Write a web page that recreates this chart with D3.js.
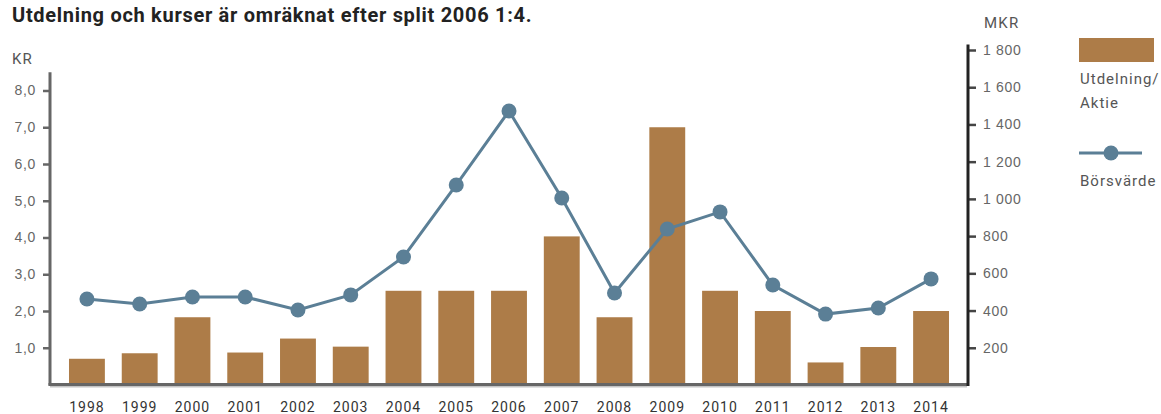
<!DOCTYPE html>
<html>
<head>
<meta charset="utf-8">
<script src="https://cdn.jsdelivr.net/npm/d3@7"></script>
<style>
  body { margin: 0; background: #fff; }
  svg { display: block; font-family: Roboto, "DejaVu Sans", sans-serif; }
  .tick text { fill: #666; font-size: 14px; letter-spacing: 0.7px; }
  .xlab text { fill: #333; font-size: 14px; letter-spacing: 1px; }
  .legend text { fill: #555; font-size: 15px; letter-spacing: 1px; }
</style>
</head>
<body>
<svg id="chart" width="1161" height="414"></svg>
<script>
const years = ['1998','1999','2000','2001','2002','2003','2004','2005','2006','2007','2008','2009','2010','2011','2012','2013','2014'];
// utdelning per aktie, KR
const dividend = [0.7, 0.85, 1.83, 0.87, 1.25, 1.03, 2.55, 2.55, 2.55, 4.03, 1.83, 7.0, 2.55, 2.0, 0.6, 1.02, 2.0];
// börsvärde, MKR
const marketCap = [462, 435, 473, 473, 403, 484, 688, 1075, 1472, 1005, 494, 838, 930, 537, 381, 414, 570];
const leftTicks = [1, 2, 3, 4, 5, 6, 7, 8];
const rightTicks = [200, 400, 600, 800, 1000, 1200, 1400, 1600, 1800];

const barColor = '#ad7c48';
const lineColor = '#5b7f96';

const se = d3.formatLocale({ decimal: ',', thousands: '\u2009', grouping: [3], currency: ['', ' kr'] });
const fmtKr = se.format('.1f');
const fmtMkr = d => se.format(',')(d).replace('\u2009', ' ');

const svg = d3.select('#chart');

const x = d3.scaleBand()
  .domain(years)
  .range([50, 968])
  .paddingInner(0.32)
  .paddingOuter(0.36);

const yL = d3.scaleLinear().domain([0, 8]).range([384.5, 90.5]);
const yR = d3.scaleLinear().domain([0, 1800]).range([385, 50]);

// title
svg.append('text')
  .attr('x', 12).attr('y', 22)
  .attr('font-size', 20).attr('font-weight', 'bold')
  .attr('letter-spacing', 0.7)
  .attr('fill', '#222')
  .text('Utdelning och kurser är omräknat efter split 2006 1:4.');

svg.append('text').attr('x', 12).attr('y', 64)
  .attr('font-size', 15).attr('fill', '#555').attr('letter-spacing', 1.2)
  .text('KR');
svg.append('text').attr('x', 984).attr('y', 28)
  .attr('font-size', 15).attr('fill', '#555').attr('letter-spacing', 1.2)
  .text('MKR');

// bars
svg.append('g').selectAll('rect')
  .data(dividend)
  .join('rect')
  .attr('x', (d, i) => x(years[i]))
  .attr('y', d => yL(d))
  .attr('width', x.bandwidth())
  .attr('height', d => yL(0) - yL(d))
  .attr('fill', barColor);

// line
const line = d3.line()
  .x((d, i) => x(years[i]) + x.bandwidth() / 2)
  .y(d => yR(d));
svg.append('path')
  .datum(marketCap)
  .attr('fill', 'none')
  .attr('stroke', lineColor)
  .attr('stroke-width', 3)
  .attr('d', line);
svg.append('g').selectAll('circle')
  .data(marketCap)
  .join('circle')
  .attr('cx', (d, i) => x(years[i]) + x.bandwidth() / 2)
  .attr('cy', d => yR(d))
  .attr('r', 7.5)
  .attr('fill', lineColor);

// left axis
const gL = svg.append('g').attr('transform', 'translate(50,0)')
  .call(d3.axisLeft(yL).tickValues(leftTicks).tickFormat(fmtKr).tickSize(7).tickPadding(7));
gL.select('.domain').remove();
gL.selectAll('.tick line').attr('stroke', '#666').attr('stroke-width', 2.5);
svg.append('line')
  .attr('x1', 50).attr('x2', 50)
  .attr('y1', yL(8.5)).attr('y2', yL(0) + 1)
  .attr('stroke', '#666').attr('stroke-width', 3);

// right axis
const gR = svg.append('g').attr('transform', 'translate(968,0)')
  .call(d3.axisRight(yR).tickValues(rightTicks).tickFormat(fmtMkr).tickSize(8).tickPadding(7));
gR.select('.domain').remove();
gR.selectAll('.tick line').attr('stroke', '#444').attr('stroke-width', 2.5);

// bottom axis
svg.append('line')
  .attr('x1', 50).attr('x2', 967)
  .attr('y1', yL(0) + 2).attr('y2', yL(0) + 2)
  .attr('stroke', '#c4c4c4').attr('stroke-width', 2);
svg.append('line')
  .attr('x1', 48.5).attr('x2', 968)
  .attr('y1', yL(0)).attr('y2', yL(0))
  .attr('stroke', '#666').attr('stroke-width', 3);
svg.append('line')
  .attr('x1', 968).attr('x2', 968)
  .attr('y1', yR(1830)).attr('y2', yR(0) + 1)
  .attr('stroke', '#222').attr('stroke-width', 3);

// x labels
const gX = svg.append('g').attr('class', 'xlab');
gX.selectAll('text')
  .data(years)
  .join('text')
  .attr('x', d => x(d) + x.bandwidth() / 2)
  .attr('y', 412)
  .attr('text-anchor', 'middle')
  .text(d => d);

// legend
const lg = svg.append('g').attr('class', 'legend');
lg.append('rect').attr('x', 1079).attr('y', 38).attr('width', 75).attr('height', 24).attr('fill', barColor);
lg.append('text').attr('x', 1080).attr('y', 84).text('Utdelning/');
lg.append('text').attr('x', 1080).attr('y', 108).text('Aktie');
lg.append('line').attr('x1', 1079).attr('x2', 1142).attr('y1', 153).attr('y2', 153)
  .attr('stroke', lineColor).attr('stroke-width', 3);
lg.append('circle').attr('cx', 1111).attr('cy', 153).attr('r', 7.5).attr('fill', lineColor);
lg.append('text').attr('x', 1080).attr('y', 186).text('Börsvärde');
</script>
</body>
</html>
